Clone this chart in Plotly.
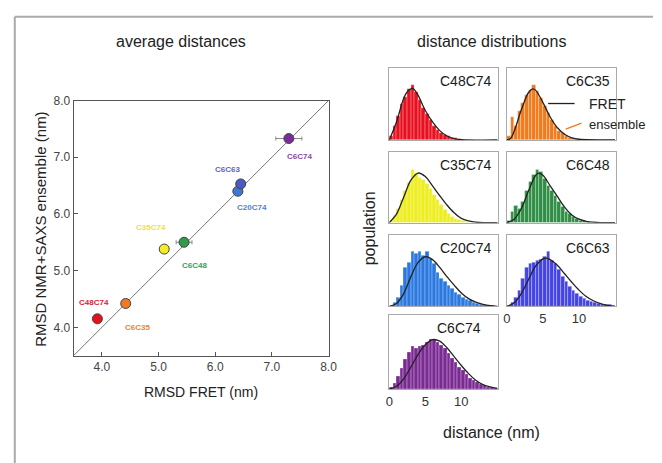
import plotly.graph_objects as go

W, H = 662, 463

# ---------------- average distances (scatter) ----------------
constructs = ["C48C74", "C6C35", "C35C74", "C6C48", "C20C74", "C6C63", "C6C74"]
rmsd_fret = [3.92, 4.42, 5.10, 5.45, 6.40, 6.45, 7.30]
rmsd_ensemble = [4.15, 4.42, 5.38, 5.50, 6.40, 6.53, 7.33]
rmsd_fret_err = [0.05, 0.04, 0.04, 0.14, 0.08, 0.05, 0.23]

marker_colors = ["#e3121b", "#ef7a26", "#f2ee22", "#2f9a48", "#3d78d6", "#4b58c6", "#7b2c98"]
label_colors = ["#e0203a", "#f08030", "#ece23a", "#38a058", "#4a84d2", "#5a66c4", "#8a48aa"]

# ---------------- distance distributions (histograms) ----------------
bin_width = 0.5
bin_centers = [0.25 + 0.5 * i for i in range(30)]

hist = {
    "C48C74": [0.05, 0.20, 0.33, 0.50, 0.60, 0.71, 0.76, 0.66, 0.56, 0.44, 0.36, 0.27, 0.19, 0.14,
               0.10, 0.07, 0.05, 0.03, 0.02, 0.01, 0, 0, 0, 0, 0, 0, 0, 0, 0, 0],
    "C6C35": [0.05, 0.32, 0.20, 0.40, 0.52, 0.62, 0.70, 0.77, 0.68, 0.58, 0.47, 0.37, 0.27, 0.19,
              0.13, 0.09, 0.05, 0.03, 0.02, 0.01, 0, 0, 0, 0, 0, 0, 0, 0, 0, 0],
    "C35C74": [0.03, 0.10, 0.20, 0.32, 0.45, 0.56, 0.75, 0.70, 0.63, 0.60, 0.55, 0.48, 0.40, 0.32,
               0.25, 0.18, 0.13, 0.09, 0.06, 0.04, 0.02, 0.01, 0, 0, 0, 0, 0, 0, 0, 0],
    "C6C48": [0.02, 0.15, 0.24, 0.20, 0.30, 0.45, 0.58, 0.68, 0.74, 0.72, 0.62, 0.52, 0.45, 0.38,
              0.30, 0.22, 0.16, 0.12, 0.08, 0.05, 0.03, 0.02, 0.01, 0, 0, 0, 0, 0, 0, 0],
    "C20C74": [0.00, 0.05, 0.12, 0.30, 0.55, 0.62, 0.77, 0.75, 0.77, 0.72, 0.77, 0.68, 0.60, 0.48,
               0.40, 0.35, 0.30, 0.25, 0.20, 0.17, 0.13, 0.10, 0.08, 0.06, 0.04, 0.03, 0.02, 0.01, 0.01, 0],
    "C6C63": [0.01, 0.06, 0.12, 0.22, 0.40, 0.55, 0.60, 0.62, 0.65, 0.66, 0.70, 0.77, 0.65, 0.60,
              0.52, 0.42, 0.35, 0.28, 0.22, 0.18, 0.14, 0.11, 0.09, 0.07, 0.05, 0.04, 0.03, 0.03, 0.02, 0.01],
    "C6C74": [0.02, 0.08, 0.18, 0.28, 0.40, 0.50, 0.58, 0.55, 0.58, 0.60, 0.64, 0.68, 0.68, 0.64,
              0.60, 0.55, 0.48, 0.42, 0.36, 0.30, 0.25, 0.20, 0.15, 0.12, 0.09, 0.07, 0.05, 0.03, 0.02, 0.01],
}

# FRET-derived distributions, sampled along distance (nm)
fret_x = {
    "C48C74": [0, 1, 2, 2.5, 3, 3.3, 4, 5, 6, 7, 8, 9, 10, 15],
    "C6C35": [0, 0.5, 1, 2, 3, 3.6, 4, 5, 6, 7, 8, 9, 10, 15],
    "C35C74": [0, 1, 2, 3, 4, 5, 6, 7, 8, 9, 10, 11, 12, 15],
    "C6C48": [0, 1, 2, 3, 4, 4.4, 5, 6, 7, 8, 9, 10, 11, 12, 13, 15],
    "C20C74": [0, 1, 2, 3, 4, 5, 6, 7, 8, 9, 10, 11, 12, 13, 14, 15],
    "C6C63": [0, 1, 2, 3, 4, 5, 5.5, 6, 7, 8, 9, 10, 11, 12, 13, 14, 15],
    "C6C74": [0, 1, 2, 3, 4, 5, 6, 7, 8, 9, 10, 11, 12, 13, 14, 15],
}
fret_y = {
    "C48C74": [0, 0.25, 0.58, 0.67, 0.71, 0.715, 0.62, 0.41, 0.25, 0.13, 0.055, 0.02, 0.005, 0],
    "C6C35": [0, 0.02, 0.12, 0.42, 0.66, 0.71, 0.69, 0.52, 0.32, 0.17, 0.08, 0.03, 0.01, 0],
    "C35C74": [0, 0.12, 0.36, 0.60, 0.70, 0.65, 0.52, 0.38, 0.25, 0.14, 0.06, 0.025, 0.008, 0],
    "C6C48": [0, 0.05, 0.20, 0.45, 0.67, 0.70, 0.67, 0.52, 0.37, 0.22, 0.11, 0.05, 0.02, 0.008, 0.002, 0],
    "C20C74": [0, 0.04, 0.18, 0.42, 0.62, 0.70, 0.66, 0.55, 0.42, 0.30, 0.19, 0.11, 0.06, 0.03, 0.01, 0],
    "C6C63": [0, 0.05, 0.18, 0.38, 0.57, 0.67, 0.68, 0.66, 0.58, 0.46, 0.34, 0.23, 0.14, 0.08, 0.04, 0.015, 0],
    "C6C74": [0, 0.04, 0.14, 0.30, 0.47, 0.60, 0.67, 0.65, 0.56, 0.44, 0.32, 0.21, 0.12, 0.06, 0.03, 0.01],
}

hist_colors = {
    "C48C74": "#e8101e", "C6C35": "#f07a1c", "C35C74": "#eeee1e", "C6C48": "#2f8f45",
    "C20C74": "#2a78e0", "C6C63": "#4444e6", "C6C74": "#7a2a92",
}

# panel grid (pixel boxes: left, right, top, bottom)
cols = [(393, 504), (513, 624)]
rows = [(62, 135), (147, 219), (232, 304), (313, 388)]
panel_order = [("C48C74", 0, 0), ("C6C35", 1, 0), ("C35C74", 0, 1), ("C6C48", 1, 1),
               ("C20C74", 0, 2), ("C6C63", 1, 2), ("C6C74", 0, 3)]
panels_with_ticks = {"C6C63", "C6C74"}


def px(x):
    return x / W


def py(y):
    return 1 - y / H


FONT = "Liberation Sans, Arial, sans-serif"
fig = go.Figure()

# ---- scatter panel ----
fig.add_trace(go.Scatter(
    x=[3.5, 8.0], y=[3.5, 8.0], mode="lines",
    line=dict(color="#777777", width=1), xaxis="x", yaxis="y", hoverinfo="skip",
))
fig.add_trace(go.Scatter(
    x=rmsd_fret, y=rmsd_ensemble, mode="markers",
    error_x=dict(type="data", array=rmsd_fret_err, color="#888888", thickness=1, width=2),
    marker=dict(color=marker_colors, size=10, line=dict(color="#444444", width=1)),
    text=constructs, xaxis="x", yaxis="y",
))

# label offsets (data units) relative to each point
label_dx = [-0.06, 0.21, -0.24, 0.19, 0.25, -0.23, 0.18]
label_dy = [0.28, -0.42, 0.38, -0.41, -0.28, 0.26, -0.31]
annotations = []
for name, x, y, dx, dy, c in zip(constructs, rmsd_fret, rmsd_ensemble, label_dx, label_dy, label_colors):
    annotations.append(dict(
        x=x + dx, y=y + dy, xref="x", yref="y", text="<b>%s</b>" % name, showarrow=False,
        font=dict(family=FONT, size=8, color=c),
    ))

axis_line = dict(showline=True, linecolor="#555555", linewidth=1, mirror=True,
                 ticks="inside", ticklen=4, tickcolor="#555555", showgrid=False, zeroline=False,
                 tickfont=dict(family=FONT, size=12, color="#444444"))

layout_axes = dict(
    xaxis=dict(domain=[px(71), px(331)], range=[3.5, 8.0], tickvals=[4, 5, 6, 7, 8],
               ticktext=["4.0", "5.0", "6.0", "7.0", "8.0"], anchor="y", **axis_line),
    yaxis=dict(domain=[py(354), py(95)], range=[3.5, 8.0], tickvals=[4, 5, 6, 7, 8],
               ticktext=["4.0", "5.0", "6.0", "7.0", "8.0"], anchor="x", **axis_line),
)

# ---- histogram panels ----
for i, (name, ci, ri) in enumerate(panel_order):
    k = i + 2
    xa, ya = "x%d" % k, "y%d" % k
    fig.add_trace(go.Bar(
        x=bin_centers, y=hist[name], width=bin_width,
        marker=dict(color=hist_colors[name], line=dict(color="rgba(255,255,255,0.55)", width=0.5)),
        xaxis=xa, yaxis=ya, showlegend=False,
    ))
    fig.add_trace(go.Scatter(
        x=fret_x[name], y=fret_y[name], mode="lines",
        line=dict(color="#222222", width=1.3, shape="spline", smoothing=1.0),
        xaxis=xa, yaxis=ya, showlegend=False,
    ))
    l, r = cols[ci]
    t, b = rows[ri]
    show = name in panels_with_ticks
    layout_axes["xaxis%d" % k] = dict(
        domain=[px(l), px(r)], range=[0, 15.1], anchor=ya, showgrid=False, zeroline=False,
        showline=True, mirror=True, linecolor="#aaaaaa", linewidth=1,
        tickvals=[0, 5, 10], showticklabels=show, ticks="",
        tickfont=dict(family=FONT, size=13, color="#333333"),
    )
    layout_axes["yaxis%d" % k] = dict(
        domain=[py(b), py(t)], range=[0, 1.0], anchor=xa, showgrid=False, zeroline=False,
        showline=True, mirror=True, linecolor="#aaaaaa", linewidth=1,
        showticklabels=False, ticks="",
    )
    # panel name
    if name == "C6C74":
        ax_x, anchor = 464, "center"
    else:
        ax_x, anchor = r - 4, "right"
    annotations.append(dict(
        x=px(ax_x), y=py(t + 13), xref="paper", yref="paper", text=name, showarrow=False,
        xanchor=anchor, yanchor="middle", font=dict(family=FONT, size=14, color="#1a1a1a"),
    ))

# titles and shared labels
text_items = [
    ("average distances", 181, 35, 16, 0),
    ("distance distributions", 497, 35, 16, 0),
    ("population", 373, 225, 16, -90),
    ("distance (nm)", 497, 432, 16, 0),
    ("RMSD FRET (nm)", 201, 391, 14, 0),
    ("RMSD NMR+SAXS ensemble (nm)", 37, 226, 15, -90),
]
for txt, x, y, size, ang in text_items:
    annotations.append(dict(
        x=px(x), y=py(y), xref="paper", yref="paper", text=txt, showarrow=False,
        xanchor="center", yanchor="middle", textangle=ang,
        font=dict(family=FONT, size=size, color="#222222"),
    ))

# key for the FRET curve and ensemble histogram
annotations.append(dict(x=px(595), y=py(98), xref="paper", yref="paper", text="FRET",
                        showarrow=False, xanchor="left", yanchor="middle",
                        font=dict(family=FONT, size=14, color="#222222")))
annotations.append(dict(x=px(595), y=py(119), xref="paper", yref="paper", text="ensemble",
                        showarrow=False, xanchor="left", yanchor="middle",
                        font=dict(family=FONT, size=13, color="#222222")))

shapes = [
    dict(type="line", xref="paper", yref="paper", x0=px(555), x1=px(582), y0=py(98), y1=py(98),
         line=dict(color="#222222", width=1.3)),
    dict(type="line", xref="paper", yref="paper", x0=px(573), x1=px(589), y0=py(124), y1=py(118),
         line=dict(color="#f07a1c", width=1.3)),
    # outer frame
    dict(type="line", xref="paper", yref="paper", x0=px(11), x1=1, y0=py(10), y1=py(10),
         line=dict(color="#aaaaaa", width=2)),
    dict(type="line", xref="paper", yref="paper", x0=px(11), x1=px(11), y0=py(10), y1=0,
         line=dict(color="#aaaaaa", width=2)),
]

fig.update_layout(
    width=W, height=H, margin=dict(l=0, r=0, t=0, b=0),
    paper_bgcolor="white", plot_bgcolor="white", showlegend=False,
    bargap=0, annotations=annotations, shapes=shapes, **layout_axes,
)

fig.write_html("out.html")
